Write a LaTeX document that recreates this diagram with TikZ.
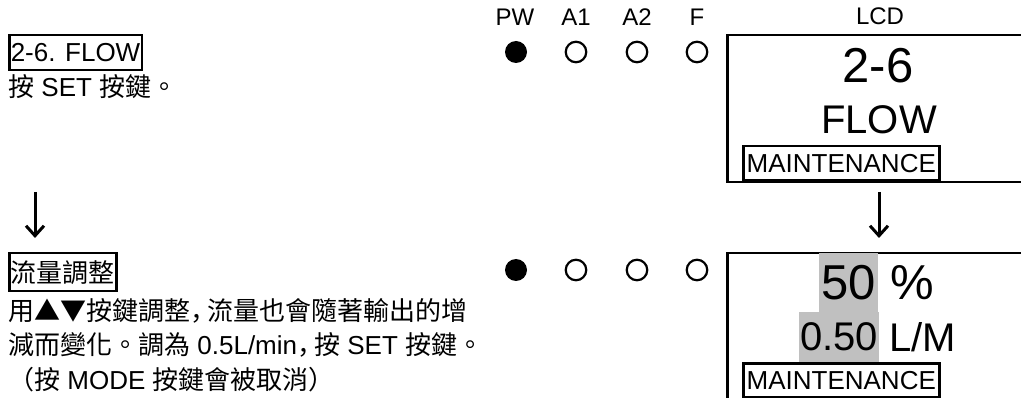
\documentclass[tikz,border=0pt]{standalone}
\usepackage{fontspec}
\setmainfont{Liberation Sans}
\newfontfamily\cjk{Noto Sans CJK TC}
\newfontfamily\cjkjp{Noto Sans CJK JP}
\usetikzlibrary{arrows.meta}

\definecolor{lcdshade}{RGB}{192,192,192}
\newcommand{\zh}[1]{{\cjk #1}}
\newcommand{\zhcomma}{\makebox[17pt][l]{\cjkjp ，}}

\begin{document}
\begin{tikzpicture}[
    x=1pt, % one unit is one pixel of the panel
    y=-1pt, % y runs downwards, like the panel
    every node/.style={inner sep=0pt, anchor=base},
    led label/.style={font=\fontsize{24}{26}\selectfont},
    led lit/.style={circle, fill=black, minimum size=22pt, anchor=center},
    led dark/.style={circle, draw=black, line width=2.2pt, minimum size=20.5pt, anchor=center},
    lcd box/.style={draw, line width=2.5pt, anchor=north west, minimum width=330pt, minimum height=#1},
    mode tag/.style={draw, line width=2.5pt, anchor=north west, minimum width=196pt, minimum height=34pt,
        font=\fontsize{26}{28}\selectfont},
    step tag/.style={draw, line width=2.5pt, anchor=north west, inner xsep=1.5pt, minimum height=#1,
        font=\fontsize{26}{28}\selectfont},
    body text/.style={anchor=base west, font=\fontsize{26}{30}\selectfont},
    big text/.style={font=\fontsize{#1}{#1}\selectfont},
    shaded/.style={fill=lcdshade, anchor=center},
    flow arrow/.style={line width=3pt, -{Straight Barb[length=10pt, width=18pt]}}
    ]

\clip (0,0) rectangle (1021,398);

% --- LED names ---
\foreach \name/\x in {PW/515, A1/576, A2/637, F/697} {
    \node[led label] (lbl-\name) at (\x, 26) {\name};
}
\node[led label] (lbl-LCD) at (880, 25) {LCD};

% --- LEDs, both steps ---
\node[led lit] (led1-PW) at (516, 52) {};
\node[led lit] (led2-PW) at (516, 270) {};
\foreach \name/\x in {A1/576, A2/637, F/697} {
    \node[led dark] (led1-\name) at (\x, 52) {};
    \node[led dark] (led2-\name) at (\x, 270) {};
}

% --- Step 1: menu 2-6 ---
\node[step tag=35pt] (step1) at (8, 34) {2-6. FLOW};
\node[body text] (step1-txt) at (8, 97) {\zh{按} SET \zh{按鍵。}};

\node[lcd box=147pt] (lcd1) at (726, 34) {};
\node[big text=49] (lcd1-num) at (878, 83) {2-6};
\node[big text=40] (lcd1-name) at (879, 134) {FLOW};
\node[mode tag] (lcd1-mode) at (742, 145) {MAINTENANCE};

% --- Arrows ---
\coordinate (arrL-top) at (35, 192);
\coordinate (arrL-end) at (35, 238);
\coordinate (arrR-top) at (879, 192);
\coordinate (arrR-end) at (879, 238);
\draw[flow arrow] (arrL-top) -- (arrL-end);
\draw[flow arrow] (arrR-top) -- (arrR-end);

% --- Step 2: flow adjust ---
\node[step tag=38pt] (step2) at (8, 252) {\zh{流量調整}};
\node[body text] (step2-l1) at (8, 321) {\zh{用▲▼按鍵調整}\zhcomma\zh{流量也會隨著輸出的增}};
\node[body text] (step2-l2) at (8, 355) {\zh{減而變化。調為} 0.5L/min\zhcomma\zh{按} SET \zh{按鍵。}};
\node[body text] (step2-l3) at (8, 389) {\zh{（按} MODE \zh{按鍵會被取消）}};

\node[lcd box=160pt] (lcd2) at (726, 252) {};
\node[shaded, big text=49, minimum width=59pt, minimum height=59pt] (lcd2-pct) at (848.5, 282.5) {50};
\node[big text=49, anchor=base west] (lcd2-pct-unit) at (890.5, 300) {\%};
\node[shaded, big text=40, minimum width=80pt, minimum height=50pt] (lcd2-flow) at (839, 337) {0.50};
\node[big text=40, anchor=base west] (lcd2-flow-unit) at (889, 352) {L/M};
\node[mode tag] (lcd2-mode) at (742, 362) {MAINTENANCE};

\end{tikzpicture}
\end{document}
